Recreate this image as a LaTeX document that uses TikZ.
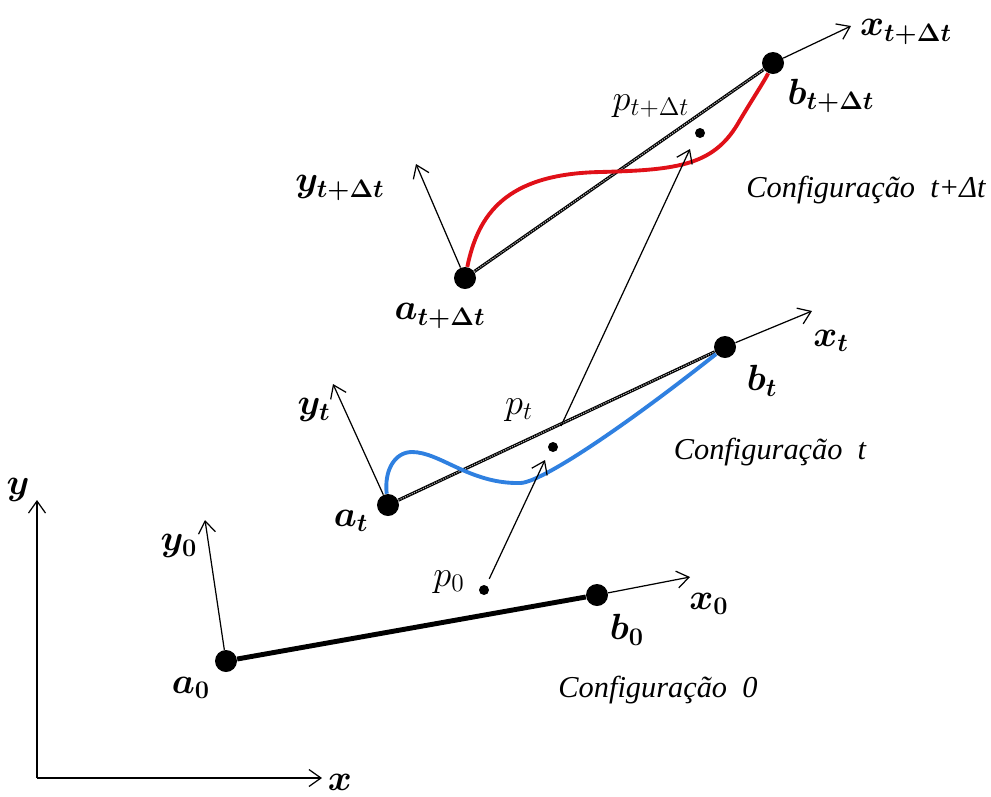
\documentclass[tikz,border=0pt]{standalone}
\usepackage{amsmath}
\usepackage{fontspec}
\setmainfont{Liberation Serif}
\usetikzlibrary{arrows.meta}
\definecolor{CurveRed}{HTML}{E01018}
\definecolor{CurveBlue}{HTML}{2F80E0}

\begin{document}
\begin{tikzpicture}[x=0.02cm,y=-0.02cm,>={Straight Barb[length=2.4mm,width=3.4mm]},
    axis/.style={->,line width=0.7pt},
    bigdot/.style={circle,fill=black,inner sep=0pt,minimum size=0.44cm},
    smalldot/.style={circle,fill=black,inner sep=0pt,minimum size=0.2cm},
    chord/.style={line width=1.8pt},
    chordtick/.style={gray!60,line width=0.6pt,dash pattern=on 0.7pt off 0.7pt},
    lab/.style={font=\huge},
    plab/.style={font=\huge},
    conf/.style={font=\LARGE\itshape}]
    \useasboundingbox (0,0) rectangle (991,796);

    % global frame
    \coordinate (O) at (37,778);
    \coordinate (Xend) at (322,778);
    \coordinate (Yend) at (37,500);
    \draw[axis] (O) -- (Xend);
    \draw[axis] (O) -- (Yend);
    \node[lab,inner sep=0pt] (Xlab) at (340,782) {$\boldsymbol{x}$};
    \node[lab] (Ylab) at (18,490) {$\boldsymbol{y}$};

    % configuration 0
    \node[bigdot] (a0) at (226,661) {};
    \node[bigdot] (b0) at (597,595) {};
    \node[smalldot] (p0) at (484,590) {};
    \coordinate (x0end) at (690,577);
    \coordinate (y0end) at (205,520);
    \draw[line width=2.8pt] (a0) -- (b0);
    \draw[axis] (b0) -- (x0end);
    \draw[axis] (a0) -- (y0end);
    \node[lab] (a0lab) at (191,688) {$\boldsymbol{a_0}$};
    \node[lab] (b0lab) at (627,630) {$\boldsymbol{b_0}$};
    \node[lab] (x0lab) at (709,604) {$\boldsymbol{x_0}$};
    \node[lab] (y0lab) at (179,546) {$\boldsymbol{y_0}$};
    \node[plab] (p0lab) at (449,582) {$p_0$};
    \node[conf] (conf0) at (658,690) {Configuração~~0};

    % configuration t
    \node[bigdot] (at) at (388,505) {};
    \node[bigdot] (bt) at (725,347) {};
    \node[smalldot] (pt) at (553,447) {};
    \coordinate (xtend) at (812,311);
    \coordinate (ytend) at (333,384);
    \draw[chord] (at) -- (bt);
    \draw[chordtick] (at) -- (bt);
    \draw[CurveBlue,line width=2.2pt] (at) .. controls (384,470) and (395,452) .. (412,452)
      .. controls (440,452) and (470,484) .. (520,483)
      .. controls (540,483) and (620,430) .. (bt);
    \draw[axis] (bt) -- (xtend);
    \draw[axis] (at) -- (ytend);
    \node[lab] (atlab) at (351,521) {$\boldsymbol{a_t}$};
    \node[lab] (btlab) at (762,381) {$\boldsymbol{b_t}$};
    \node[lab] (xtlab) at (831,341) {$\boldsymbol{x_t}$};
    \node[lab] (ytlab) at (314,410) {$\boldsymbol{y_t}$};
    \node[plab] (ptlab) at (519,410) {$p_t$};
    \node[conf] (conft) at (770,452) {Configuração~~t};

    % configuration t+dt
    \node[bigdot] (ad) at (465,278) {};
    \node[bigdot] (bd) at (773,63) {};
    \node[smalldot] (pd) at (700,133) {};
    \coordinate (xdend) at (851,26);
    \coordinate (ydend) at (416,164);
    \draw[chord] (ad) -- (bd);
    \draw[chordtick] (ad) -- (bd);
    \draw[CurveRed,line width=2.2pt] (ad) .. controls (478,215) and (505,174) .. (600,172)
      .. controls (680,170) and (715,165) .. (740,120)
      .. controls (755,95) and (765,80) .. (bd);
    \draw[axis] (bd) -- (xdend);
    \draw[axis] (ad) -- (ydend);
    \node[lab] (adlab) at (440,316) {$\boldsymbol{a_{t+\Delta t}}$};
    \node[lab] (bdlab) at (831,96) {$\boldsymbol{b_{t+\Delta t}}$};
    \node[lab] (xdlab) at (906,32) {$\boldsymbol{x_{t+\Delta t}}$};
    \node[lab] (ydlab) at (340,188) {$\boldsymbol{y_{t+\Delta t}}$};
    \node[plab] (pdlab) at (651,106) {$p_{t+\Delta t}$};
    \node[conf] (confd) at (866,190) {Configuração~~t+Δt};

    % motion of the point
    \coordinate (tipA) at (545,460);
    \coordinate (onchord) at (561,426);
    \coordinate (tipB) at (690,149);
    \draw[axis,shorten <=4pt] (p0) -- (tipA);
    \draw[axis] (onchord) -- (tipB);
\end{tikzpicture}
\end{document}
